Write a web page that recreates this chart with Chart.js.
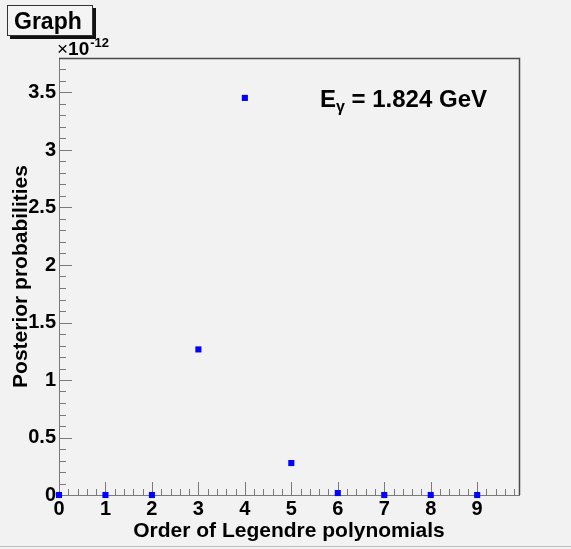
<!DOCTYPE html>
<html><head><meta charset="utf-8">
<script src="https://cdn.jsdelivr.net/npm/chart.js@4"></script>
<style>html,body{margin:0;padding:0;background:#f2f2f2;} canvas{display:block;}</style>
</head><body>
<canvas id="c" width="571" height="549"></canvas>
<script>
// ---- data (values in units of 1e-12) ----
const orders = [0, 1, 2, 3, 4, 5, 6, 7, 8, 9];
const posterior = [0, 0, 0, 1.266, 3.453, 0.278, 0.017, 0, 0, 0];
const yExponent = -12;
const xTickValues = [0, 1, 2, 3, 4, 5, 6, 7, 8, 9];
const xTickLabels = ['0', '1', '2', '3', '4', '5', '6', '7', '8', '9'];
const yTickValues = [0, 0.5, 1, 1.5, 2, 2.5, 3, 3.5];
const yTickLabels = ['0', '0.5', '1', '1.5', '2', '2.5', '3', '3.5'];
const xTitle = 'Order of Legendre polynomials';
const yTitle = 'Posterior probabilities';
const graphTitle = 'Graph';
const energyLabel = ['E', 'γ', ' = 1.824 GeV'];
const xRange = [0, 9.9];
const yRange = [0, 3.8];

const FONT = '"Liberation Sans", Arial, Helvetica, sans-serif';
const BG = '#f2f2f2';

const rootDecor = {
  id: 'rootDecor',
  beforeDraw(chart) {
    const ctx = chart.ctx;
    ctx.save();
    ctx.fillStyle = BG;
    ctx.fillRect(0, 0, chart.width, chart.height);
    ctx.restore();
  },
  beforeDatasetsDraw(chart) {
    const ctx = chart.ctx, a = chart.chartArea;
    const xs = chart.scales.x, ys = chart.scales.y;
    ctx.save();
    // frame top / right
    ctx.strokeStyle = '#4a4a4a';
    ctx.lineWidth = 1.5;
    ctx.beginPath();
    ctx.moveTo(a.left, a.top + 0.5);
    ctx.lineTo(a.right + 0.5, a.top + 0.5);
    ctx.lineTo(a.right + 0.5, a.bottom);
    ctx.stroke();
    // inward ticks
    ctx.strokeStyle = '#7a7a7a';
    ctx.lineWidth = 1;
    ctx.beginPath();
    for (let i = 0; ; i++) {
      const v = i * 0.2;
      if (v > xRange[1] + 1e-9) break;
      const px = Math.round(xs.getPixelForValue(v)) + 0.5;
      const len = (i % 5 === 0) ? 13 : 6;
      ctx.moveTo(px, a.bottom);
      ctx.lineTo(px, a.bottom - len);
    }
    for (let i = 0; ; i++) {
      const v = i * 0.1;
      if (v > yRange[1] - 1e-6) break;
      const py = Math.round(ys.getPixelForValue(v)) + 0.5;
      const len = (i % 5 === 0) ? 13 : 7;
      ctx.moveTo(a.left, py);
      ctx.lineTo(a.left + len, py);
    }
    ctx.stroke();
    ctx.restore();
  },
  afterDraw(chart) {
    const ctx = chart.ctx, a = chart.chartArea;
    ctx.save();
    // title box with shadow
    ctx.fillStyle = '#111';
    ctx.fillRect(10, 8, 86, 31);
    ctx.fillStyle = '#f4f4f4';
    ctx.fillRect(7, 5, 86, 31);
    ctx.strokeStyle = '#333';
    ctx.lineWidth = 1;
    ctx.strokeRect(7.5, 5.5, 85, 30);
    ctx.fillStyle = '#000';
    ctx.font = 'bold 23px ' + FONT;
    ctx.textBaseline = 'alphabetic';
    ctx.textAlign = 'left';
    ctx.fillText(graphTitle, 14, 29);
    // exponent label
    ctx.font = '19px ' + FONT;
    ctx.fillText('\u00d7', a.left - 2, 55);
    let ex = a.left - 2 + ctx.measureText('\u00d7').width;
    ctx.font = 'bold 19px ' + FONT;
    ctx.fillText('10', ex, 55);
    ex += ctx.measureText('10').width + 1;
    ctx.font = 'bold 13px ' + FONT;
    ctx.fillText(String(yExponent), ex, 47);
    // energy annotation
    let x = 320;
    const base = 107;
    ctx.font = 'bold 24px ' + FONT;
    ctx.fillText(energyLabel[0], x, base);
    x += ctx.measureText(energyLabel[0]).width;
    ctx.font = 'bold 16px ' + FONT;
    ctx.fillText(energyLabel[1], x, base + 5);
    x += ctx.measureText(energyLabel[1]).width;
    ctx.font = 'bold 24px ' + FONT;
    ctx.fillText(energyLabel[2], x, base);
    // canvas bottom line
    ctx.strokeStyle = '#bdbdbd';
    ctx.beginPath();
    ctx.moveTo(0, 546.5);
    ctx.lineTo(chart.width, 546.5);
    ctx.stroke();
    ctx.restore();
  }
};

new Chart(document.getElementById('c'), {
  type: 'scatter',
  data: {
    datasets: [{
      data: orders.map((o, i) => ({ x: o, y: posterior[i] })),
      pointStyle: 'rect',
      pointRadius: 4.3,
      pointHoverRadius: 4.3,
      backgroundColor: '#0000ff',
      borderWidth: 0,
      clip: false
    }]
  },
  options: {
    responsive: false,
    animation: false,
    events: [],
    layout: { padding: { left: 0, top: 58, right: 52, bottom: 0 } },
    plugins: { legend: { display: false }, tooltip: { enabled: false }, title: { display: false } },
    scales: {
      x: {
        type: 'linear',
        min: xRange[0], max: xRange[1],
        afterFit(s) { s.height = 54; },
        afterBuildTicks(s) { s.ticks = xTickValues.map(v => ({ value: v })); },
        grid: { display: false, drawTicks: false },
        border: { display: true, color: '#7a7a7a', width: 1 },
        ticks: {
          padding: 2,
          color: '#000',
          font: { family: FONT, size: 20, weight: 'bold' },
          maxRotation: 0,
          autoSkip: false,
          callback: (v, i) => xTickLabels[i]
        },
        title: {
          display: true, text: xTitle, color: '#000',
          font: { family: FONT, size: 21, weight: 'bold' },
          padding: { top: 0, bottom: 5 }
        }
      },
      y: {
        type: 'linear',
        min: yRange[0], max: yRange[1],
        afterFit(s) { s.width = 59; },
        afterBuildTicks(s) { s.ticks = yTickValues.map(v => ({ value: v })); },
        grid: { display: false, drawTicks: false },
        border: { display: true, color: '#7a7a7a', width: 1 },
        ticks: {
          padding: 3,
          color: '#000',
          font: { family: FONT, size: 20, weight: 'bold' },
          autoSkip: false,
          callback: (v, i) => yTickLabels[i]
        },
        title: {
          display: true, text: yTitle, color: '#000',
          font: { family: FONT, size: 21, weight: 'bold' },
          padding: { top: 9, bottom: 0 }
        }
      }
    }
  },
  plugins: [rootDecor]
});
</script>
</body></html>
